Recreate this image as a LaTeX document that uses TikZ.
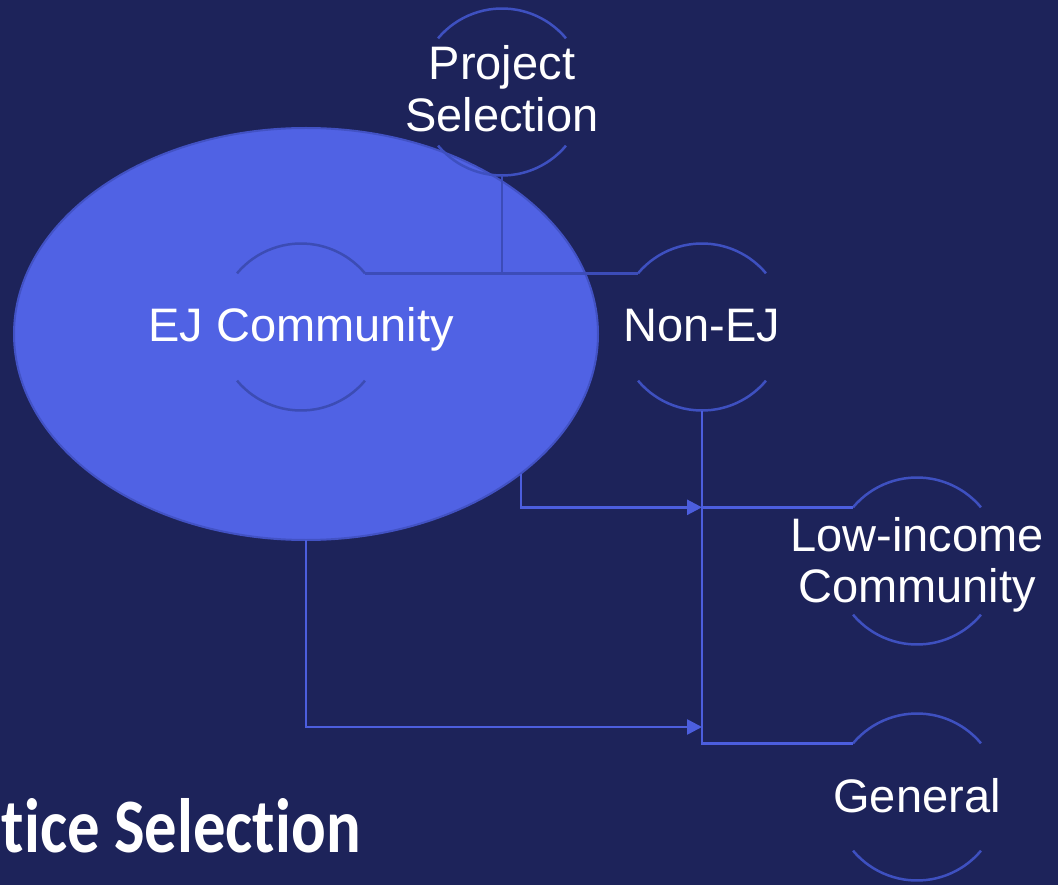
\documentclass[tikz,border=0pt]{standalone}
\usepackage{fontspec}
\setmainfont{Liberation Sans}
\newfontfamily\titlefont[Ligatures=NoCommon]{Carlito}
\usetikzlibrary{shapes.geometric,arrows.meta}
\definecolor{bgnavy}{RGB}{29,35,90}
\definecolor{ellfill}{RGB}{80,98,228}
\definecolor{elledge}{RGB}{66,82,196}
\definecolor{linec}{RGB}{76,94,222}
\definecolor{darkc}{RGB}{60,76,184}
\definecolor{arcc}{RGB}{62,80,192}
\definecolor{arcin}{RGB}{60,76,180}
\tikzset{
  hub/.style={circle, minimum size=167pt, inner sep=0pt, outer sep=0pt, draw=none},
  lbl/.style={text=white, font=\fontsize{47}{52}\selectfont, inner sep=0pt, anchor=base},
  conn/.style={draw=linec, line width=2.6pt},
  darkconn/.style={draw=darkc, line width=2.6pt},
  arr/.style={draw=linec, line width=2.6pt, -{Triangle[length=15pt,width=15pt]}},
  arcline/.style={draw=arcc, line width=2.5pt},
}
\begin{document}
\begin{tikzpicture}[x=1pt,y=1pt]
\fill[bgnavy] (0,0) rectangle (1058,-885);
\useasboundingbox (0,0) rectangle (1058,-885);
% big ellipse
\node[ellipse, minimum width=584pt, minimum height=412pt, inner sep=0pt, outer sep=0pt,
      fill=ellfill, draw=elledge, line width=2pt] (ell) at (306,-334) {};
% circle nodes
\node[hub] (ps) at (502,-92) {};
\node[hub] (ej) at (301,-327) {};
\node[hub] (nej) at (702,-327) {};
\node[hub] (li) at (917,-561) {};
\node[hub] (gen) at (917,-797) {};
% arcs
\foreach \n in {ps,nej,li,gen}{
  \draw[arcline] (\n.140) arc[start angle=140, end angle=40, radius=83.5pt];
  \draw[arcline] (\n.220) arc[start angle=220, end angle=320, radius=83.5pt];
}
\draw[arcline, draw=arcin] (ej.140) arc[start angle=140, end angle=40, radius=83.5pt];
\draw[arcline, draw=arcin] (ej.220) arc[start angle=220, end angle=320, radius=83.5pt];
% connectors: project selection tree
\draw[darkconn] (ps.south) -- (ps.south |- ej.40);
\draw[darkconn] (ej.40) -- (nej.140);
% connectors: non-EJ tree
\draw[conn] (nej.south) -- (nej.south |- gen.140) -- (gen.140);
\draw[conn] (nej.south |- li.140) -- (li.140);
% arrows from EJ ellipse
\coordinate (m1) at (nej.south |- li.140);
\coordinate (m2) at (702,-727);
\draw[arr] (ell.-33.4) |- (m1);
\draw[arr] (ell.south) |- (m2);
% labels
\node[lbl] (pst1) at (502,-80) {Project};
\node[lbl] (pst2) at (502,-132) {Selection};
\node[lbl] (ejt) at (301,-342) {EJ Community};
\node[lbl] (nejt) at (702,-342) {Non-EJ};
\node[lbl] (lit1) at (917,-551) {Low-income};
\node[lbl] (lit2) at (917,-602) {Community};
\node[lbl] (gent) at (917,-812) {General};
\node[text=white, inner sep=0pt, anchor=base east] (title) at (361,-852)
  {\scalebox{0.84}[1]{\titlefont\bfseries\fontsize{77}{80}\selectfont tice Selection}};
\end{tikzpicture}
\end{document}
